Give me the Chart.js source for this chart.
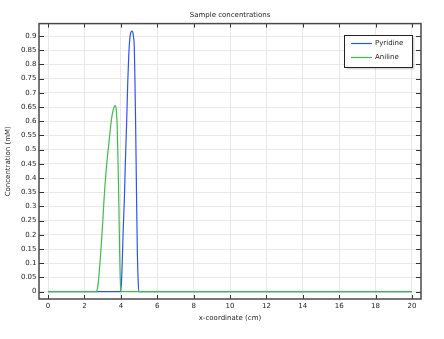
<!DOCTYPE html>
<html><head><meta charset="utf-8">
<style>html,body{margin:0;padding:0;background:#fff}#wrap{width:444px;height:339px}</style>
<script src="https://cdn.jsdelivr.net/npm/chart.js@4"></script>
</head><body><div id="wrap"><canvas id="c" width="444" height="339"></canvas></div>
<script>
const chartTitle = 'Sample concentrations';
const xAxisTitle = 'x-coordinate (cm)';
const yAxisTitle = 'Concentration (mM)';
const seriesNames = ['Pyridine', 'Aniline'];

const xPyridine = [0, 3.98, 4.03, 4.08, 4.13, 4.19, 4.25, 4.32, 4.38, 4.44, 4.5, 4.55, 4.6, 4.65, 4.7, 4.74, 4.77, 4.81, 4.84, 4.87, 4.91, 4.95, 4.99, 20];
const yPyridine = [0, 0, 0.03, 0.11, 0.22, 0.32, 0.46, 0.6, 0.74, 0.84, 0.895, 0.913, 0.918, 0.915, 0.895, 0.86, 0.76, 0.6, 0.45, 0.3, 0.13, 0.04, 0, 0];

const xAniline = [0, 2.66, 2.72, 2.78, 2.85, 2.92, 3.0, 3.08, 3.17, 3.27, 3.37, 3.47, 3.56, 3.63, 3.69, 3.74, 3.77, 3.8, 3.83, 3.87, 3.9, 3.93, 3.96, 3.99, 4.01, 20];
const yAniline = [0, 0, 0.015, 0.045, 0.1, 0.16, 0.24, 0.33, 0.41, 0.48, 0.54, 0.6, 0.635, 0.65, 0.655, 0.645, 0.62, 0.58, 0.5, 0.38, 0.27, 0.15, 0.06, 0.01, 0, 0];

const xTicks = [0, 2, 4, 6, 8, 10, 12, 14, 16, 18, 20];
const xTickLabels = ['0', '2', '4', '6', '8', '10', '12', '14', '16', '18', '20'];
const yTicks = [0, 0.05, 0.1, 0.15, 0.2, 0.25, 0.3, 0.35, 0.4, 0.45, 0.5, 0.55, 0.6, 0.65, 0.7, 0.75, 0.8, 0.85, 0.9];
const yTickLabels = ['0', '0.05', '0.1', '0.15', '0.2', '0.25', '0.3', '0.35', '0.4', '0.45', '0.5', '0.55', '0.6', '0.65', '0.7', '0.75', '0.8', '0.85', '0.9'];

const FONT = 'DejaVu Sans';
const TXT = '#222';
const colors = ['#2f52f5', '#3dbd4a'];

function pts(xs, ys) { return xs.map((x, i) => ({ x: x, y: ys[i] })); }

const framePlugin = {
  id: 'frame',
  afterDraw(chart) {
    const ctx = chart.ctx, a = chart.chartArea;
    const sx = chart.scales.x, sy = chart.scales.y;
    ctx.save();
    ctx.strokeStyle = '#333';
    ctx.lineWidth = 1;
    ctx.beginPath();
    xTicks.forEach(v => {
      const p = Math.round(sx.getPixelForValue(v)) + 0.5;
      ctx.moveTo(p, a.bottom); ctx.lineTo(p, a.bottom - 4);
      ctx.moveTo(p, a.top); ctx.lineTo(p, a.top + 4);
    });
    yTicks.forEach(v => {
      const p = Math.round(sy.getPixelForValue(v)) + 0.5;
      ctx.moveTo(a.left, p); ctx.lineTo(a.left + 5, p);
      ctx.moveTo(a.right, p); ctx.lineTo(a.right - 5, p);
    });
    ctx.stroke();
    ctx.lineWidth = 1.5;
    ctx.strokeStyle = '#4a4a4a';
    ctx.strokeRect(a.left, a.top, a.right - a.left, a.bottom - a.top);

    // legend
    const lx = 344.5, ly = 35.5, lw = 68, lh = 32;
    ctx.fillStyle = 'rgba(0,0,0,0.15)';
    ctx.fillRect(lx + 2, ly + 2, lw, lh);
    ctx.fillStyle = '#fff';
    ctx.fillRect(lx, ly, lw, lh);
    ctx.lineWidth = 1;
    ctx.strokeStyle = '#222';
    ctx.strokeRect(lx, ly, lw, lh);
    ctx.font = '7px "' + FONT + '"';
    ctx.textBaseline = 'middle';
    ctx.textAlign = 'left';
    chart.data.datasets.forEach((ds, i) => {
      const yy = 43.5 + i * 14;
      ctx.strokeStyle = ds.borderColor;
      ctx.lineWidth = 1.2;
      ctx.beginPath(); ctx.moveTo(351, yy); ctx.lineTo(372, yy); ctx.stroke();
      ctx.fillStyle = TXT;
      ctx.fillText(ds.label, 375, yy);
    });
    ctx.restore();
  }
};

new Chart(document.getElementById('c'), {
  type: 'scatter',
  data: {
    datasets: [
      { label: seriesNames[0], order: 1, data: pts(xPyridine, yPyridine), borderColor: colors[0], backgroundColor: colors[0], showLine: true, pointRadius: 0, borderWidth: 1.2, cubicInterpolationMode: 'monotone' },
      { label: seriesNames[1], order: 0, data: pts(xAniline, yAniline), borderColor: colors[1], backgroundColor: colors[1], showLine: true, pointRadius: 0, borderWidth: 1.2, cubicInterpolationMode: 'monotone' }
    ]
  },
  options: {
    responsive: false,
    animation: false,
    devicePixelRatio: 1,
    layout: { padding: { left: 0, right: 23, top: 0, bottom: 0 } },
    plugins: {
      legend: { display: false },
      tooltip: { enabled: false },
      title: { display: true, fullSize: false, text: chartTitle, color: TXT, font: { family: FONT, size: 7, weight: 'normal' }, padding: { top: 11.2, bottom: 4 } }
    },
    scales: {
      x: {
        type: 'linear', min: -0.5, max: 20.5,
        afterBuildTicks: s => { s.ticks = xTicks.map(v => ({ value: v })); },
        afterFit: s => { s.height = 40; },
        grid: { color: '#e8e8e8', drawTicks: false, lineWidth: 1 },
        border: { display: false },
        ticks: { color: TXT, font: { family: FONT, size: 7 }, padding: 3, maxRotation: 0, autoSkip: false, callback: (v, i) => xTickLabels[i] },
        title: { display: true, text: xAxisTitle, color: TXT, font: { family: FONT, size: 7 }, padding: { top: 0, bottom: 16.5 } }
      },
      y: {
        type: 'linear', min: -0.026, max: 0.944,
        afterBuildTicks: s => { s.ticks = yTicks.map(v => ({ value: v })); },
        afterFit: s => { s.width = 39; },
        grid: { color: '#e8e8e8', drawTicks: false, lineWidth: 1 },
        border: { display: false },
        ticks: { color: TXT, font: { family: FONT, size: 7 }, padding: 2.5, autoSkip: false, callback: (v, i) => yTickLabels[i] },
        title: { display: true, text: yAxisTitle, color: TXT, font: { family: FONT, size: 7 }, padding: { top: 3.8, bottom: 0 } }
      }
    }
  },
  plugins: [framePlugin]
});
</script></body></html>
